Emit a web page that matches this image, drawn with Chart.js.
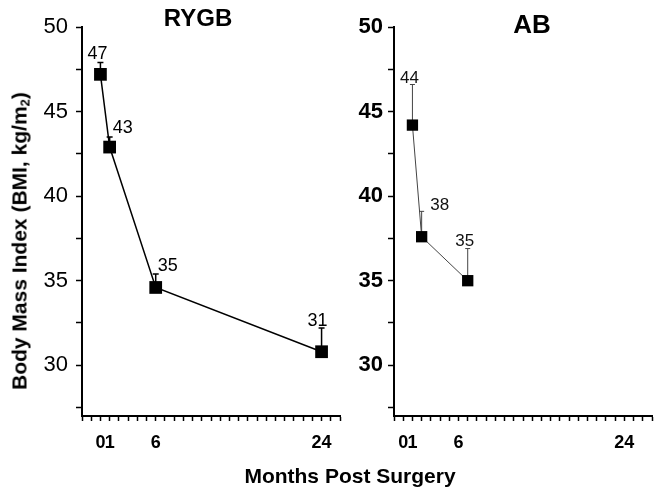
<!DOCTYPE html>
<html>
<head>
<meta charset="utf-8">
<script src="https://cdn.jsdelivr.net/npm/chart.js@4.4.1/dist/chart.umd.min.js"></script>
<style>
  body { margin: 0; background: #fff; }
  #wrap { position: relative; width: 663px; height: 491px; overflow: hidden; font-family: "Liberation Sans", Arial, sans-serif; color: #000; }
  canvas { position: absolute; top: 0; }
  #rygb { left: 0; }
  #ab { left: 343px; }
  .lbl { position: absolute; font-weight: bold; white-space: nowrap; transform: translate(-50%, -50%); line-height: 1; }
  #ytitle { left: 20px; top: 241px; font-size: 21px; transform: translate(-50%, -50%) rotate(-90deg); }
  #ytitle sub { font-size: 13px; vertical-align: -3px; }
</style>
</head>
<body>
<div id="wrap">
  <canvas id="rygb" width="351" height="491"></canvas>
  <canvas id="ab" width="320" height="491"></canvas>
  <div class="lbl" style="left:198px; top:18px; font-size:24px;">RYGB</div>
  <div class="lbl" style="left:532px; top:24px; font-size:26px;">AB</div>
  <div class="lbl" id="ytitle">Body Mass Index (BMI, kg/m<sub>2</sub>)</div>
  <div class="lbl" style="left:350px; top:475px; font-size:21px;">Months Post Surgery</div>
</div>
<script>
// months after surgery, mean BMI and top of the error bar
const rygbMonths = [0, 1, 6, 24];
const rygbBmi = [47.2, 42.9, 34.6, 30.8];
const rygbUpper = [47.9, 43.5, 35.4, 32.2];

const abMonths = [1, 2, 7];
const abBmi = [44.2, 37.6, 35.0];
const abUpper = [46.6, 39.1, 36.9];

const xTickLabels = [0, 1, 6, 24];
const yTickLabels = [30, 35, 40, 45, 50];

const FONT = '"Liberation Sans", Arial, sans-serif';

// error bars (upward only) + rounded value labels above them
function errorBars(upper, s) {
  return {
    id: 'errorBars',
    beforeDatasetsDraw(chart) {
      const ctx = chart.ctx, y = chart.scales.y;
      ctx.save();
      ctx.strokeStyle = s.barColor;
      ctx.lineWidth = s.barWidth;
      chart.getDatasetMeta(0).data.forEach((p, i) => {
        const top = y.getPixelForValue(upper[i]);
        ctx.beginPath();
        ctx.moveTo(p.x, p.y);
        ctx.lineTo(p.x, top);
        ctx.moveTo(p.x - s.cap, top);
        ctx.lineTo(p.x + s.cap, top);
        ctx.stroke();
      });
      ctx.restore();
    },
    afterDatasetsDraw(chart) {
      const ctx = chart.ctx, y = chart.scales.y;
      const vals = chart.data.datasets[0].data;
      ctx.save();
      ctx.fillStyle = s.textColor;
      ctx.font = s.textFont;
      ctx.textAlign = 'center';
      ctx.textBaseline = 'middle';
      chart.getDatasetMeta(0).data.forEach((p, i) => {
        const top = y.getPixelForValue(upper[i]);
        const off = s.offsets[i];
        ctx.fillText(String(Math.round(vals[i].y)), p.x + off[0], top + off[1]);
      });
      ctx.restore();
    }
  };
}

function panel(id, months, bmi, upper, s) {
  return new Chart(document.getElementById(id), {
    type: 'line',
    data: {
      datasets: [{
        data: months.map((m, i) => ({ x: m, y: bmi[i] })),
        borderColor: s.line,
        borderWidth: s.lineWidth,
        pointStyle: 'rect',
        pointRadius: s.radius,
        pointBackgroundColor: '#000',
        pointBorderWidth: 0,
        tension: 0
      }]
    },
    plugins: [errorBars(upper, s)],
    options: {
      responsive: false,
      animation: false,
      events: [],
      layout: { padding: { top: 27, right: s.padRight, bottom: 0, left: 0 } },
      plugins: { legend: { display: false }, tooltip: { enabled: false } },
      scales: {
        x: {
          type: 'linear',
          min: s.xMin,
          max: s.xMax,
          afterBuildTicks: sc => {
            const t = [];
            for (let v = s.xMin; v <= s.xMax; v++) t.push({ value: v });
            sc.ticks = t;
          },
          afterFit: sc => { sc.height = 75; },
          border: { display: true, color: '#000', width: 2 },
          grid: { drawOnChartArea: false, tickLength: 5, color: '#000', tickWidth: 1.5 },
          ticks: {
            autoSkip: false, maxRotation: 0, minRotation: 0, padding: 11,
            color: '#000',
            font: { family: FONT, size: 18, weight: 'bold' },
            callback: v => xTickLabels.includes(v) ? String(v) : ''
          }
        },
        y: {
          min: 27,
          max: 50,
          afterBuildTicks: sc => {
            const t = [];
            for (let v = 27.5; v <= 50; v += 2.5) t.push({ value: v });
            sc.ticks = t;
          },
          afterFit: sc => { sc.width = s.yWidth; },
          border: { display: true, color: '#000', width: 2 },
          grid: { drawOnChartArea: false, tickLength: 6, color: '#000', tickWidth: 1.5 },
          ticks: {
            padding: s.yPad,
            color: '#000',
            font: { family: FONT, size: 22, weight: s.yWeight },
            callback: v => yTickLabels.includes(v) ? String(v) : ''
          }
        }
      }
    }
  });
}

panel('rygb', rygbMonths, rygbBmi, rygbUpper, {
  xMin: -2, xMax: 26, yWidth: 82, padRight: 0, yPad: 8, yWeight: 'normal',
  line: '#000', lineWidth: 1.5, radius: 9,
  barColor: '#000', barWidth: 1.5, cap: 3,
  textColor: '#000', textFont: '18px ' + FONT,
  offsets: [[-3, -8], [13, -9], [12, -8], [-4, -7]]
});

panel('ab', abMonths, abBmi, abUpper, {
  xMin: -1, xMax: 27, yWidth: 51, padRight: 10, yPad: 5, yWeight: 'bold',
  line: '#444', lineWidth: 1, radius: 8,
  barColor: '#444', barWidth: 1, cap: 2.5,
  textColor: '#111', textFont: '17px ' + FONT,
  offsets: [[-3, -6], [18, -6], [-3, -7]]
});
</script>
</body>
</html>
